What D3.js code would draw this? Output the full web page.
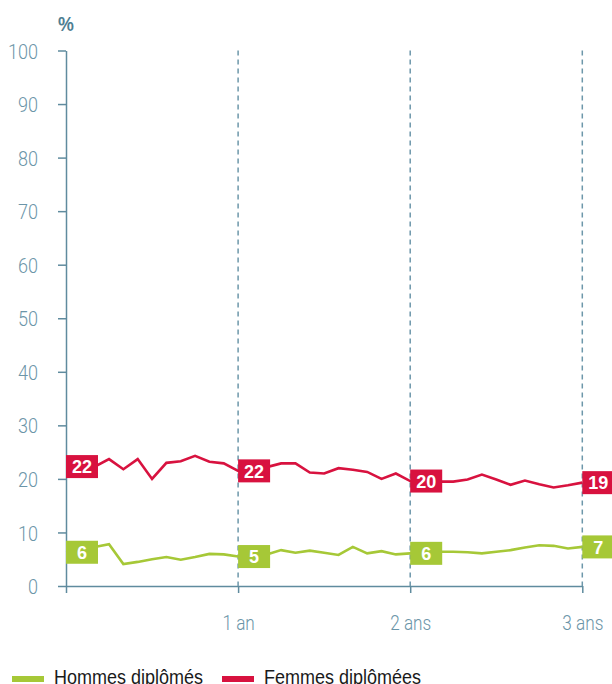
<!DOCTYPE html>
<html>
<head>
<meta charset="utf-8">
<script src="https://cdn.jsdelivr.net/npm/d3@7"></script>
<style>
  body { margin: 0; background: #fff; }
  svg { display: block; font-family: "Liberation Sans", Arial, sans-serif; }
  .light { font-family: Roboto, "Liberation Sans", sans-serif; font-weight: 300; }
</style>
</head>
<body>
<svg id="chart"></svg>
<script>
// months since graduation (0 .. 36)
const months = d3.range(0, 37)

const hommes = [
  6.3, 6.5, 7.3, 7.8, 4.1, 4.5, 5.0, 5.4, 4.9, 5.4, 6.0, 5.9,
  5.5, 5.7, 5.9, 6.7, 6.2, 6.6, 6.2, 5.8, 7.3, 6.1, 6.5, 5.9,
  6.1, 6.3, 6.4, 6.4, 6.3, 6.1, 6.4, 6.7, 7.2, 7.6, 7.5, 7.0,
  7.3,
]
const femmes = [
  22.3, 22.3, 22.3, 23.7, 21.8, 23.7, 20.0, 23.0, 23.3, 24.3, 23.2, 22.9,
  21.5, 22.1, 22.2, 22.9, 22.9, 21.2, 21.0, 22.0, 21.7, 21.3, 20.0, 21.0,
  19.6, 19.5, 19.5, 19.5, 19.9, 20.8, 19.9, 18.9, 19.7, 19.0, 18.4, 18.8,
  19.3,
]

// labelled points (month index) and the values printed in the boxes
const labelMonths = [0, 12, 24, 36]
const hommesLabels = ["6", "5", "6", "7"]
const femmesLabels = ["22", "22", "20", "19"]

const xTickValues = [0, 12, 24, 36]
const xTickLabels = ["", "1 an", "2 ans", "3 ans"]
const yTickValues = d3.range(0, 101, 10)

const series = [
  { name: "Hommes diplômés", values: hommes, labels: hommesLabels, color: "#a6c837" },
  { name: "Femmes diplômées", values: femmes, labels: femmesLabels, color: "#d8123f" },
]

// 1) dimensions
const dimensions = {
  width: 612,
  height: 684,
  margin: { top: 50.5, left: 66, right: 29.7 },
  boundedHeight: 535.5,
}
dimensions.boundedWidth =
  dimensions.width - dimensions.margin.left - dimensions.margin.right

const axisColor = "#5f8b9e"
const textColor = "#6b95a8"

// squeeze text horizontally around its anchor (condensed look)
const squeeze = (sel, sx) =>
  sel.each(function () {
    const t = d3.select(this)
    const x = +t.attr("x") || 0
    t.attr("x", 0).attr("transform", `translate(${x},0) scale(${sx},1)`)
  })

// 2) canvas
const wrapper = d3
  .select("#chart")
  .attr("width", dimensions.width)
  .attr("height", dimensions.height)

const bounds = wrapper
  .append("g")
  .attr("transform", `translate(${dimensions.margin.left},${dimensions.margin.top})`)

// 3) scales
const xScale = d3
  .scaleLinear()
  .domain([0, 36])
  .range([0, dimensions.boundedWidth])

const yScale = d3
  .scaleLinear()
  .domain([0, 100])
  .range([dimensions.boundedHeight, 0])

// 4) peripherals
const yAxis = bounds
  .append("g")
  .call(
    d3.axisLeft(yScale).tickValues(yTickValues).tickSize(8).tickSizeOuter(0).tickPadding(20)
  )
yAxis.attr("font-family", null).attr("font-size", null)
yAxis.select(".domain").attr("stroke", axisColor).attr("stroke-width", 1.5)
yAxis.selectAll(".tick line").attr("stroke", axisColor).attr("stroke-width", 1.5)
yAxis
  .selectAll(".tick text")
  .attr("class", "light")
  .attr("fill", textColor)
  .style("font-size", "21px")
  .attr("dy", "0.36em")
  .call(squeeze, 0.86)

const xAxis = bounds
  .append("g")
  .attr("transform", `translate(0,${dimensions.boundedHeight})`)
  .call(
    d3
      .axisBottom(xScale)
      .tickValues(xTickValues)
      .tickFormat((d, i) => xTickLabels[i])
      .tickSize(7)
      .tickSizeOuter(0)
      .tickPadding(23)
  )
xAxis.attr("font-family", null).attr("font-size", null)
xAxis.select(".domain").attr("stroke", axisColor).attr("stroke-width", 1.5)
xAxis.selectAll(".tick line").attr("stroke", axisColor).attr("stroke-width", 1.5)
xAxis
  .selectAll(".tick text")
  .attr("class", "light")
  .attr("fill", textColor)
  .style("font-size", "20px")
  .call(squeeze, 0.86)

// dashed year markers
bounds
  .append("g")
  .selectAll("line")
  .data(xTickValues.slice(1))
  .join("line")
  .attr("x1", (d) => xScale(d))
  .attr("x2", (d) => xScale(d))
  .attr("y1", 0)
  .attr("y2", dimensions.boundedHeight)
  .attr("stroke", "#6d97aa")
  .attr("stroke-width", 1.5)
  .attr("stroke-dasharray", "5,4")

bounds
  .append("text")
  .attr("x", 0)
  .attr("y", -20)
  .attr("text-anchor", "middle")
  .attr("fill", "#4e7e92")
  .style("font-size", "21px")
  .style("font-weight", "bold")
  .text("%")
  .call(squeeze, 0.85)

// 5) lines
const lineGenerator = d3
  .line()
  .x((d, i) => xScale(months[i]))
  .y((d) => yScale(d))

bounds
  .append("g")
  .selectAll("path")
  .data(series)
  .join("path")
  .attr("d", (s) => lineGenerator(s.values))
  .attr("fill", "none")
  .attr("stroke", (s) => s.color)
  .attr("stroke-width", 2.6)
  .attr("stroke-linejoin", "miter")

// value boxes
const boxW = 32
const boxH = 23
series.forEach((s) => {
  const g = bounds
    .append("g")
    .selectAll("g")
    .data(labelMonths)
    .join("g")
    .attr("transform", (m) => `translate(${xScale(m)},${yScale(s.values[m])})`)
  g.append("rect")
    .attr("x", 0)
    .attr("y", -boxH / 2)
    .attr("width", boxW)
    .attr("height", boxH)
    .attr("fill", s.color)
  g.append("text")
    .attr("x", boxW / 2)
    .attr("y", 0)
    .attr("dy", "0.36em")
    .attr("text-anchor", "middle")
    .attr("fill", "#fff")
    .style("font-size", "19px")
    .style("font-weight", "bold")
    .text((m, i) => s.labels[i])
    .call(squeeze, 0.95)
})

// 6) legend
const legend = wrapper
  .append("g")
  .selectAll("g")
  .data(series)
  .join("g")
  .attr("transform", (d, i) => `translate(${[12, 222][i]},676)`)
legend
  .append("rect")
  .attr("width", 32)
  .attr("height", 6)
  .attr("fill", (d) => d.color)
legend
  .append("text")
  .attr("x", 42)
  .attr("y", 8)
  .attr("fill", "#1a1a1a")
  .style("font-size", "20px")
  .text((d) => d.name)
  .call(squeeze, 0.9)
</script>
</body>
</html>
